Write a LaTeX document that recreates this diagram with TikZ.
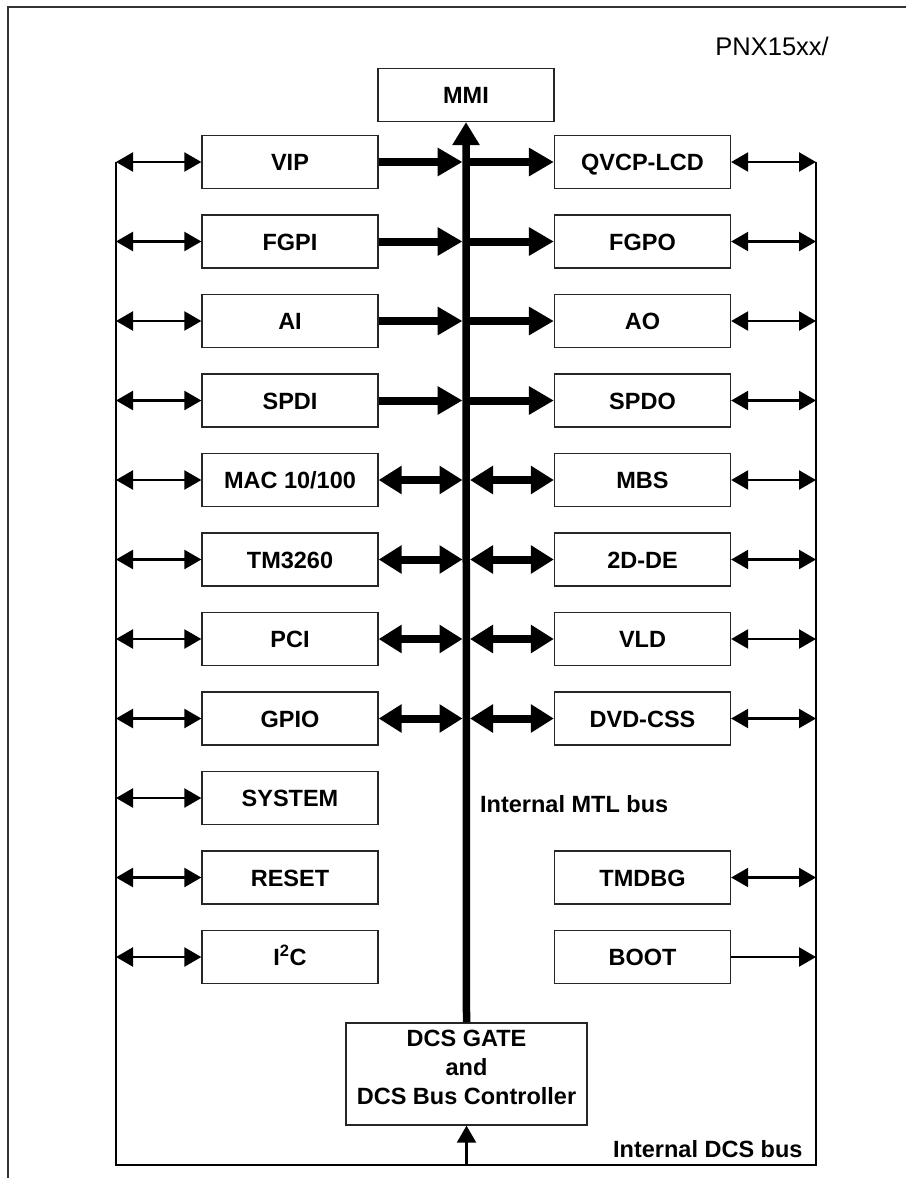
\documentclass[tikz,border=0pt]{standalone}
\usepackage{fontspec}
\setmainfont{Liberation Sans}
\usetikzlibrary{arrows.meta}
\begin{document}
\begin{tikzpicture}[x=1pt,y=-1pt,
  blk/.style={draw=black!85, line width=1.3pt, minimum width=176pt, minimum height=53pt, inner sep=0pt, text height=17pt, text depth=0pt, font=\fontsize{23.5}{28}\selectfont\bfseries},
  lbl/.style={inner sep=0pt, font=\fontsize{23.5}{28}\selectfont\bfseries},
  thinarr/.style={line width=2.3pt, {Triangle[length=17pt,width=19pt]}-{Triangle[length=17pt,width=19pt]}},
  thinone/.style={line width=2.3pt, -{Triangle[length=17pt,width=19pt]}},
  thickone/.style={line width=8pt, -{Triangle[length=25pt,width=27pt]}},
  thickdbl/.style={line width=8pt, {Triangle[length=23pt,width=27pt]}-{Triangle[length=23pt,width=27pt]}},
  busline/.style={line width=2.5pt, line join=miter},
  mtlbus/.style={line width=7.5pt, -{Triangle[length=23pt,width=26pt]}}
]
\useasboundingbox (0,0) rectangle (906,1178);
% frame
\draw[line width=2pt, black!80] (8,1178) -- (8,7) -- (906,7);
\node[anchor=base east, inner sep=0pt, font=\fontsize{25.5}{30}\selectfont] (pnx) at (829,55) {PNX15xx/};

% boxes
\node[blk] (mmi) at (466,95) {MMI};
\node[blk] (vip) at (290,162) {VIP};
\node[blk] (fgpi) at (290,241.5) {FGPI};
\node[blk] (ai) at (290,321) {AI};
\node[blk] (spdi) at (290,400.5) {SPDI};
\node[blk] (mac) at (290,480) {MAC 10/100};
\node[blk] (tm) at (290,559.5) {TM3260};
\node[blk] (pci) at (290,639) {PCI};
\node[blk] (gpio) at (290,718.5) {GPIO};
\node[blk] (sys) at (290,798) {SYSTEM};
\node[blk] (reset) at (290,877.5) {RESET};
\node[blk] (iic) at (290,957) {I\textsuperscript{2}C};

\node[blk] (qvcp) at (642.5,162) {QVCP-LCD};
\node[blk] (fgpo) at (642.5,241.5) {FGPO};
\node[blk] (ao) at (642.5,321) {AO};
\node[blk] (spdo) at (642.5,400.5) {SPDO};
\node[blk] (mbs) at (642.5,480) {MBS};
\node[blk] (de) at (642.5,559.5) {2D-DE};
\node[blk] (vld) at (642.5,639) {VLD};
\node[blk] (dvd) at (642.5,718.5) {DVD-CSS};
\node[blk] (tmdbg) at (642.5,877.5) {TMDBG};
\node[blk] (boot) at (642.5,957) {BOOT};

\node[blk, minimum width=241pt, minimum height=102pt] (dcs) at (466.5,1074) {};
\node[lbl, align=center, font=\fontsize{23.5}{29}\selectfont\bfseries] (dcst) at (466.5,1067) {DCS GATE\\and\\DCS Bus Controller};

\node[lbl, anchor=base west] (mtllbl) at (480,812) {Internal MTL bus};
\node[lbl, anchor=base west] (dcslbl) at (613,1157) {Internal DCS bus};

% bus coordinates
\coordinate (lbus) at (116,162);
\coordinate (rbus) at (816,162);
\coordinate (lbot) at (116,1165);
\coordinate (rbot) at (816,1165);
\coordinate (dcsin) at (466.5,1165);
\coordinate (mtlL) at (462.5,0);
\coordinate (mtlR) at (470,0);

% DCS bus
\draw[busline] (lbus) -- (lbot) -- (rbot) -- (rbus);
\draw[thinone] (dcsin) -- (dcs.south);
% MTL bus
\draw[mtlbus] (dcs.north) -- (mmi.south);

% left thin arrows
\foreach \n in {vip,fgpi,ai,spdi,mac,tm,pci,gpio,sys,reset,iic}
  \draw[thinarr] (\n.west -| lbus) -- (\n.west);
% right thin arrows
\foreach \n in {qvcp,fgpo,ao,spdo,mbs,de,vld,dvd,tmdbg}
  \draw[thinarr] (\n.east) -- (\n.east -| rbus);
\draw[thinone] (boot.east) -- (boot.east -| rbus);

% thick one-way arrows
\foreach \n in {vip,fgpi,ai,spdi}
  \draw[thickone] (\n.east) -- (\n.east -| mtlL);
\foreach \n in {qvcp,fgpo,ao,spdo}
  \draw[thickone] (\n.west -| mtlR) -- (\n.west);
% thick two-way arrows
\foreach \n in {mac,tm,pci,gpio}
  \draw[thickdbl] (\n.east) -- (\n.east -| mtlL);
\foreach \n in {mbs,de,vld,dvd}
  \draw[thickdbl] (\n.west -| mtlR) -- (\n.west);
\end{tikzpicture}
\end{document}
